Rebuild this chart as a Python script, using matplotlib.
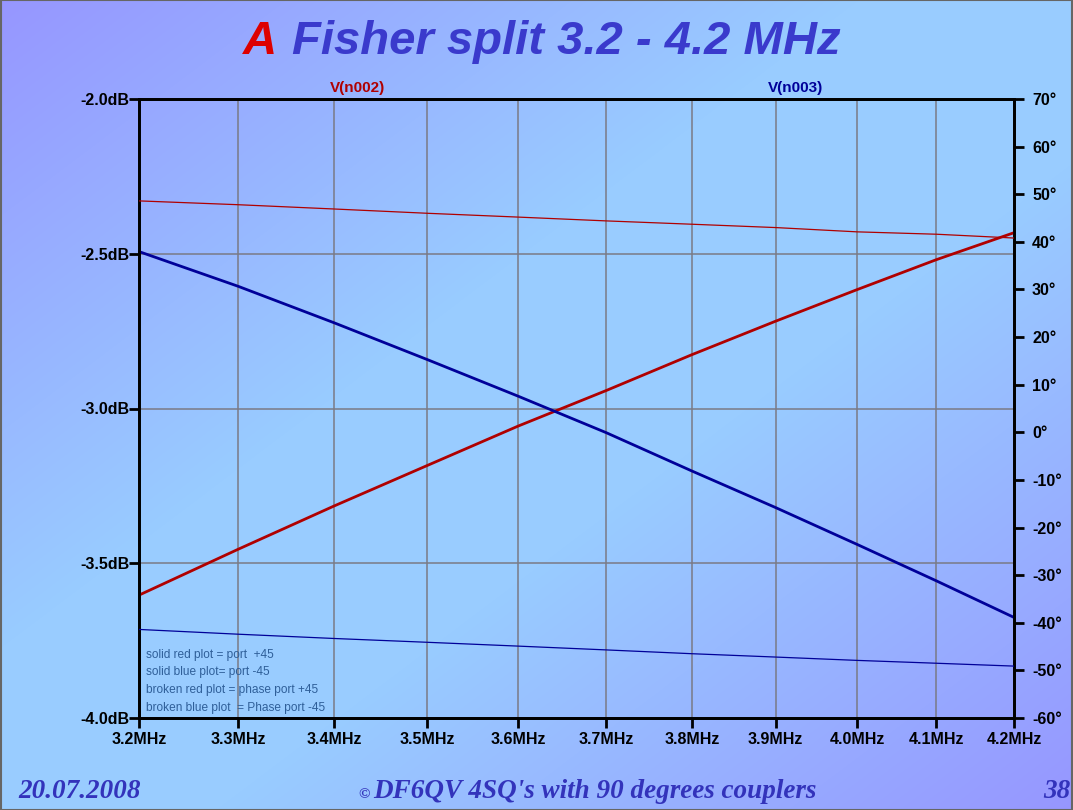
import numpy as np
import matplotlib
matplotlib.use("Agg")
import matplotlib.pyplot as plt
from matplotlib.patches import Rectangle

# ---------------- data ----------------
freq_mhz = [3.2, 3.3, 3.4, 3.5, 3.6, 3.7, 3.8, 3.9, 4.0, 4.1, 4.2]
mag_n002_db = [-3.603, -3.455, -3.315, -3.184, -3.057, -2.942, -2.826, -2.718, -2.616, -2.519, -2.432]
mag_n003_db = [-2.493, -2.605, -2.723, -2.842, -2.960, -3.078, -3.202, -3.320, -3.439, -3.557, -3.675]
phase_n002_deg = [48.6, 47.8, 46.9, 46.0, 45.2, 44.4, 43.7, 43.0, 42.1, 41.6, 40.8]
phase_n003_deg = [-41.4, -42.4, -43.3, -44.1, -44.9, -45.7, -46.5, -47.2, -47.9, -48.5, -49.1]

x_ticks = [3.2, 3.3, 3.4, 3.5, 3.6, 3.7, 3.8, 3.9, 4.0, 4.1, 4.2]
x_ticklabels = ["3.2MHz", "3.3MHz", "3.4MHz", "3.5MHz", "3.6MHz", "3.7MHz", "3.8MHz",
                "3.9MHz", "4.0MHz", "4.1MHz", "4.2MHz"]
db_ticks = [-4.0, -3.5, -3.0, -2.5, -2.0]
db_ticklabels = ["-4.0dB", "-3.5dB", "-3.0dB", "-2.5dB", "-2.0dB"]
deg_ticks = [-60, -50, -40, -30, -20, -10, 0, 10, 20, 30, 40, 50, 60, 70]
deg_ticklabels = [f"{d}°" for d in deg_ticks]

notes = ["solid red plot = port  +45",
         "solid blue plot= port -45",
         "broken red plot = phase port +45",
         "broken blue plot  = Phase port -45"]

RED = "#b00000"
BLUE = "#000099"
TITLE_BLUE = "#3a3acc"
TITLE_RED = "#dd0000"
NOTE_COLOR = "#2f5f99"

W, H = 1073, 810
fig = plt.figure(figsize=(W / 100, H / 100), dpi=100)

# ---------------- background gradient ----------------
bg = fig.add_axes([0, 0, 1, 1], zorder=-10)
yy, xx = np.mgrid[0:H, 0:W]
t = (xx / W + yy / H) / 2.0
s = 1 - np.abs(2 * t - 1)  # 0 at corners TL/BR, 1 at diagonal
purple = np.array([150, 150, 255]) / 255
light = np.array([153, 204, 255]) / 255
img = purple[None, None, :] + (light - purple)[None, None, :] * np.clip(s * 1.25, 0, 1)[..., None]
bg.imshow(img, aspect="auto", extent=[0, 1, 0, 1], origin="upper")
bg.set_xlim(0, 1)
bg.set_ylim(0, 1)
bg.axis("off")
bg.add_patch(Rectangle((0.0005, 0.0005), 0.999, 0.999, fill=False, edgecolor="#666666",
                       linewidth=1.5, transform=bg.transAxes))

# ---------------- main axes ----------------
left, right_px, top, bottom = 139, 1014, 99, 718
ax = fig.add_axes([left / W, 1 - bottom / H, (right_px - left) / W, (bottom - top) / H])
ax.set_facecolor("none")
ax.set_xscale("log")
ax.set_xlim(3.2, 4.2)
ax.set_ylim(-4.0, -2.0)
ax.set_xticks(x_ticks)
ax.set_xticklabels(x_ticklabels)
ax.xaxis.set_minor_locator(matplotlib.ticker.NullLocator())
ax.set_yticks(db_ticks)
ax.set_yticklabels(db_ticklabels)
ax.grid(True, color="#7a7a85", linewidth=1.1)
ax.set_axisbelow(True)
for sp in ax.spines.values():
    sp.set_linewidth(2.0)
    sp.set_color("black")
ax.tick_params(axis="both", direction="out", length=7, width=2.0, colors="black")
ax.tick_params(axis="y", pad=0)
ax.tick_params(axis="x", pad=3)
for lab in ax.get_xticklabels() + ax.get_yticklabels():
    lab.set_fontfamily("Liberation Sans")
    lab.set_fontweight("bold")
    lab.set_fontsize(11.5)

ax.plot(freq_mhz, mag_n002_db, color=RED, linewidth=2.0, zorder=5)
ax.plot(freq_mhz, mag_n003_db, color=BLUE, linewidth=2.0, zorder=5)

ax2 = ax.twinx()
ax2.set_ylim(-60, 70)
ax2.set_yticks(deg_ticks)
ax2.set_yticklabels(deg_ticklabels)
ax2.tick_params(axis="y", direction="out", length=7, width=2.0, colors="black", pad=6)
for sp in ax2.spines.values():
    sp.set_linewidth(2.0)
for lab in ax2.get_yticklabels():
    lab.set_fontfamily("Liberation Sans")
    lab.set_fontweight("bold")
    lab.set_fontsize(11.5)
ax2.plot(freq_mhz, phase_n002_deg, color=RED, linewidth=0.9, zorder=4)
ax2.plot(freq_mhz, phase_n003_deg, color=BLUE, linewidth=0.9, zorder=4)

# trace labels
fig.text(358 / W, 1 - 88 / H, "V(n002)", color=RED, ha="center", va="center",
         fontfamily="Liberation Sans", fontweight="bold", fontsize=11)
fig.text(796 / W, 1 - 88 / H, "V(n003)", color=BLUE, ha="center", va="center",
         fontfamily="Liberation Sans", fontweight="bold", fontsize=11)

# notes
for i, n in enumerate(notes):
    fig.text(146 / W, 1 - (655 + 17.5 * i) / H, n, color=NOTE_COLOR, ha="left", va="center",
             fontfamily="Liberation Sans", fontsize=8.6)

# title
fig.text(243 / W, 1 - 42 / H, "A", color=TITLE_RED, ha="left", va="center",
         fontfamily="Liberation Sans", fontweight="bold", fontstyle="italic", fontsize=34)
fig.text(292 / W, 1 - 42 / H, "Fisher split 3.2 - 4.2 MHz", color=TITLE_BLUE, ha="left",
         va="center", fontfamily="Liberation Sans", fontweight="bold", fontstyle="italic",
         fontsize=34)

# footer
foot_kw = dict(color="#3333bb", va="center", fontfamily="Liberation Serif",
               fontweight="bold", fontstyle="italic", fontsize=19.5)
fig.text(18 / W, 1 - 792 / H, "20.07.2008", ha="left", **foot_kw)
fig.text(358 / W, 1 - 795 / H, "©", ha="left", color="#3333bb", va="center",
         fontfamily="Liberation Serif", fontweight="bold", fontstyle="italic", fontsize=11)
fig.text(373 / W, 1 - 792 / H, "DF6QV 4SQ's with 90 degrees couplers", ha="left", **foot_kw)
fig.text(1043 / W, 1 - 792 / H, "38", ha="left", **foot_kw)

fig.savefig("out.png", dpi=100)
